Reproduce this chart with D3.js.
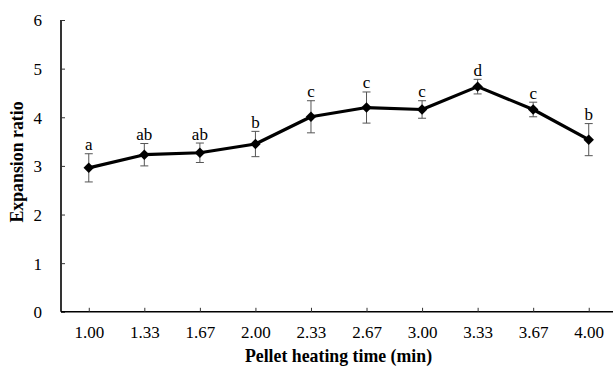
<!DOCTYPE html>
<html><head><meta charset="utf-8">
<script src="https://cdn.jsdelivr.net/npm/d3@7"></script>
<style>body{margin:0;background:#fff}svg{display:block}</style>
</head><body>
<svg id="c" width="613" height="368"></svg>
<script>
const categories = ["1.00","1.33","1.67","2.00","2.33","2.67","3.00","3.33","3.67","4.00"];
const values = [2.96, 3.23, 3.27, 3.45, 4.01, 4.20, 4.16, 4.63, 4.16, 3.54];
const errors = [0.29, 0.23, 0.20, 0.26, 0.33, 0.32, 0.18, 0.15, 0.15, 0.33];
const letters = ["a","ab","ab","b","c","c","c","d","c","b"];
const yTicks = [0,1,2,3,4,5,6];
const xTitle = "Pellet heating time (min)";
const yTitle = "Expansion ratio";

const svg = d3.select("#c");
const font = "'Liberation Serif','Times New Roman',serif";
const x = d3.scalePoint().domain(categories).range([61, 616.5]).padding(0.5);
const y = d3.scaleLinear().domain([0,6]).range([311.8, 20]);

// y axis
const ya = svg.append("g").attr("transform","translate(61,0)")
  .call(d3.axisRight(y).tickValues(yTicks).tickSize(4).tickFormat(d3.format("d")));
ya.select(".domain").attr("stroke","#000").attr("stroke-width",1.6).attr("d","M0,20V311.8");
ya.selectAll(".tick line").attr("stroke","#333");
ya.selectAll(".tick text").attr("x",-19).attr("text-anchor","end").attr("dy","0.35em")
  .attr("font-family",font).attr("font-size",17).attr("fill","#000");

// x axis
const xa = svg.append("g").attr("transform","translate(0,311.8)")
  .call(d3.axisTop(x).tickSize(4));
xa.select(".domain").attr("stroke","#000").attr("stroke-width",1.6).attr("d","M61,0H616.5");
xa.selectAll(".tick line").attr("stroke","#333");
xa.selectAll(".tick text").attr("y",26.5).attr("dy",0)
  .attr("font-family",font).attr("font-size",17).attr("fill","#000");

// titles
svg.append("text").attr("x",338.5).attr("y",362).attr("text-anchor","middle")
  .attr("font-family",font).attr("font-weight","bold").attr("font-size",17.8).text(xTitle);
svg.append("text").attr("transform","translate(23,162) rotate(-90)").attr("text-anchor","middle")
  .attr("font-family",font).attr("font-weight","bold").attr("font-size",17.8).text(yTitle);

const data = categories.map((c,i)=>({c, v:values[i], e:errors[i], l:letters[i]}));

// error bars
const eb = svg.append("g").attr("stroke","#555").attr("stroke-width",1);
data.forEach(d=>{
  const cx = x(d.c);
  eb.append("line").attr("x1",cx).attr("x2",cx).attr("y1",y(d.v+d.e)).attr("y2",y(d.v-d.e));
  eb.append("line").attr("x1",cx-4).attr("x2",cx+4).attr("y1",y(d.v+d.e)).attr("y2",y(d.v+d.e));
  eb.append("line").attr("x1",cx-4).attr("x2",cx+4).attr("y1",y(d.v-d.e)).attr("y2",y(d.v-d.e));
});

// line
svg.append("path").datum(data)
  .attr("d", d3.line().x(d=>x(d.c)).y(d=>y(d.v)))
  .attr("fill","none").attr("stroke","#000").attr("stroke-width",3.2).attr("stroke-linejoin","round");

// markers
svg.append("g").selectAll("path").data(data).join("path")
  .attr("transform",d=>`translate(${x(d.c)},${y(d.v)})`)
  .attr("d", d3.symbol().type(d3.symbolDiamond2).size(70))
  .attr("fill","#000");

// letters
svg.append("g").selectAll("text").data(data).join("text")
  .attr("x",d=>x(d.c)).attr("y",d=>y(d.v+d.e)-3.5).attr("text-anchor","middle")
  .attr("font-family",font).attr("font-size",17).attr("fill","#000").text(d=>d.l);
</script>
</body></html>
